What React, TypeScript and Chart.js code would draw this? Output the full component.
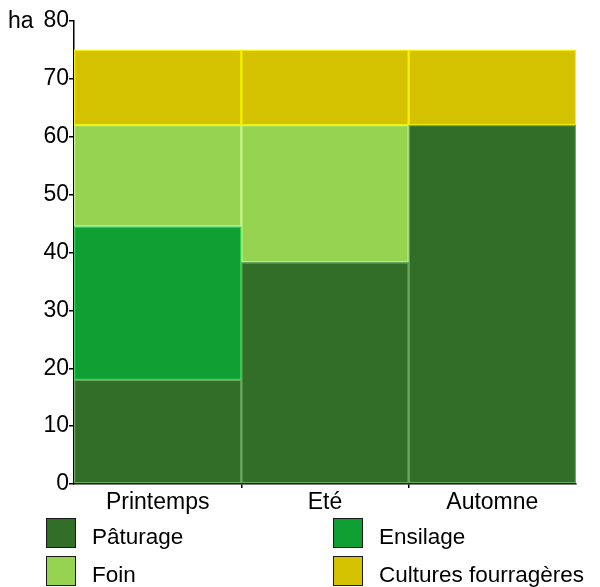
import React, { useEffect, useRef } from "react";
import { Chart, registerables } from "chart.js";

Chart.register(...registerables);

const categories = ["Printemps", "Eté", "Automne"];
const paturage = [18, 38.3, 62];
const ensilage: (number | null)[] = [26.5, null, null];
const foin: (number | null)[] = [17.5, 23.7, null];
const cultures = [13, 13, 13];
const yTicks = [0, 10, 20, 30, 40, 50, 60, 70, 80];
const unitLabel = "ha";

const seriesNames = ["Pâturage", "Ensilage", "Foin", "Cultures fourragères"];
const fillColors = ["#336e29", "#0f9f33", "#95d351", "#d4c100"];
const borderColors = ["#6aa860", "#3ad85a", "#c8f58a", "#f5f000"];

const FONT = "'Liberation Sans', Arial, sans-serif";
const CANVAS_H = 540;
const AXIS_Y = 484;

export default function App() {
  const ref = useRef<HTMLCanvasElement | null>(null);

  useEffect(() => {
    if (!ref.current) return;
    const unitPlugin = {
      id: "unitLabel",
      afterDraw(chart: any) {
        const ctx = chart.ctx;
        ctx.save();
        ctx.font = `23px ${FONT}`;
        ctx.fillStyle = "#000";
        ctx.textAlign = "left";
        ctx.textBaseline = "middle";
        ctx.fillText(unitLabel, 8, chart.scales.y.getPixelForValue(80) + 1);
        ctx.restore();
      },
    };
    const data = [paturage, ensilage, foin, cultures];
    const chart = new Chart(ref.current, {
      type: "bar",
      data: {
        labels: categories,
        datasets: data.map((d, i) => ({
          label: seriesNames[i],
          data: d,
          backgroundColor: fillColors[i],
          borderColor: borderColors[i],
          borderWidth: 1.5,
          borderSkipped: false,
          barPercentage: 1,
          categoryPercentage: 1,
        })),
      },
      options: {
        animation: false,
        responsive: false,
        devicePixelRatio: 1,
        layout: { padding: { top: 21, right: 24, left: 0, bottom: 0 } },
        plugins: { legend: { display: false }, tooltip: { enabled: false } },
        scales: {
          x: {
            stacked: true,
            afterFit: (s: any) => {
              s.height = CANVAS_H - AXIS_Y;
            },
            grid: {
              offset: true,
              drawOnChartArea: false,
              drawTicks: true,
              tickLength: 4,
              color: (c: any) => (c.index === 1 || c.index === 2 ? "#000" : "rgba(0,0,0,0)"),
              lineWidth: 1.5,
            },
            border: { color: "#000", width: 1.5 },
            ticks: { color: "#000", font: { size: 23, family: FONT }, padding: 1 },
          },
          y: {
            stacked: true,
            min: 0,
            max: 80,
            afterFit: (s: any) => {
              s.width = 74;
            },
            afterBuildTicks: (s: any) => {
              s.ticks = yTicks.map((v) => ({ value: v }));
            },
            grid: {
              drawOnChartArea: false,
              drawTicks: true,
              tickLength: 5,
              color: "#000",
              lineWidth: 1.5,
            },
            border: { color: "#000", width: 1.5 },
            ticks: { color: "#000", font: { size: 23, family: FONT }, padding: 0 },
          },
        },
      },
      plugins: [unitPlugin],
    });
    return () => chart.destroy();
  }, []);

  const legendPos = [
    { left: 46, top: 518 },
    { left: 333, top: 518 },
    { left: 46, top: 556 },
    { left: 333, top: 556 },
  ];

  return (
    <div style={{ position: "fixed", left: 0, top: 0, width: 600, height: 587, background: "#fff", fontFamily: FONT }}>
      <canvas ref={ref} width={600} height={CANVAS_H} style={{ position: "absolute", left: 0, top: 0 }} />
      {seriesNames.map((n, i) => (
        <div key={n} style={{ position: "absolute", left: legendPos[i].left, top: legendPos[i].top, height: 30, whiteSpace: "nowrap" }}>
          <div style={{ position: "absolute", left: 0, top: 0, width: 30, height: 30, background: fillColors[i], border: "1px solid #1a1a1a", boxSizing: "border-box" }} />
          <span style={{ position: "absolute", left: 46, top: 4, fontSize: 22.5, color: "#000", lineHeight: "30px" }}>{n}</span>
        </div>
      ))}
    </div>
  );
}
